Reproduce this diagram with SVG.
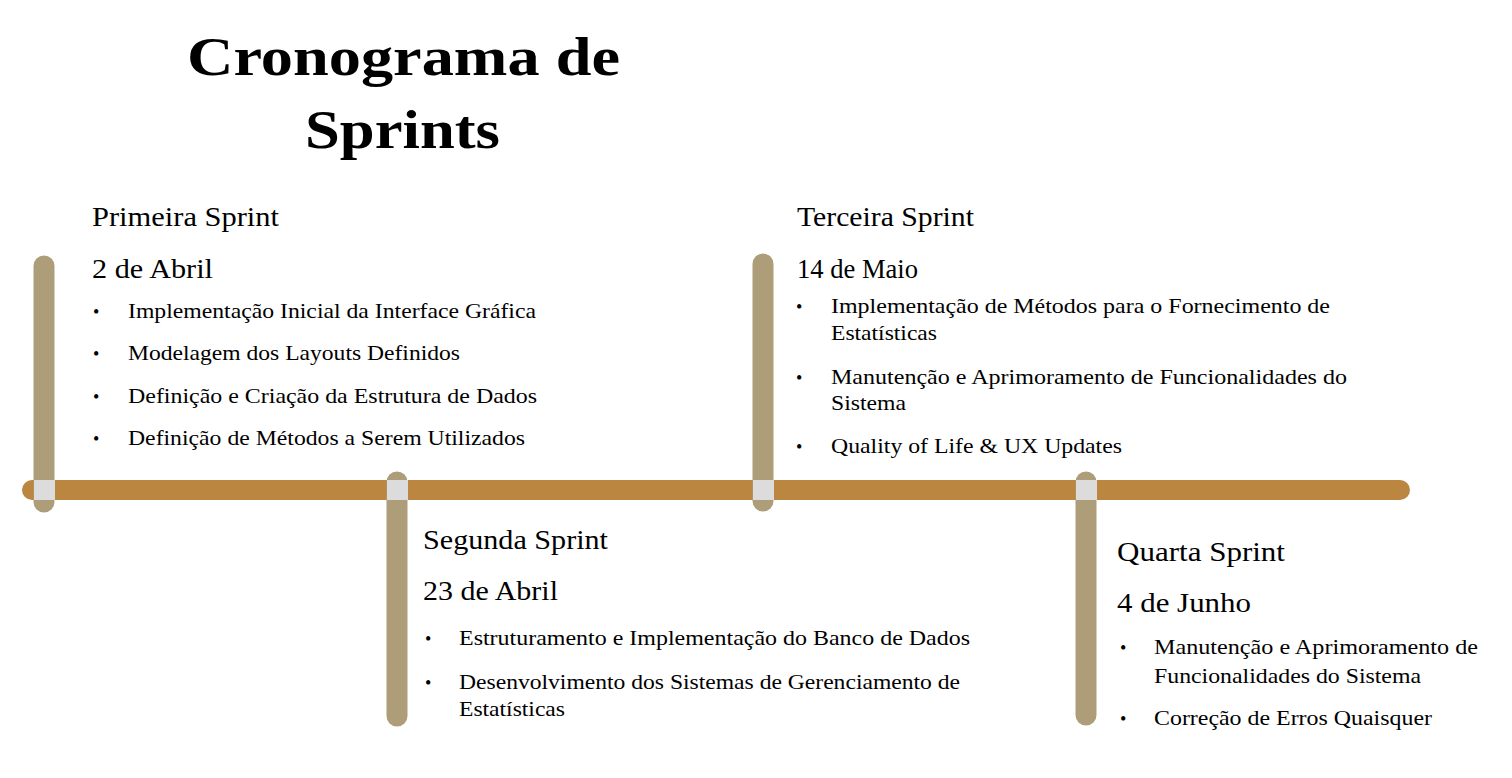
<svg xmlns="http://www.w3.org/2000/svg" width="1512" height="778" viewBox="0 0 1512 778">
<style>
text{font-family:"Liberation Serif","Times New Roman",serif;fill:#000}
.title{font-size:54px;font-weight:bold}
.head{font-size:28px}
.item{font-size:22px}
.dot{font-size:18px}
.hbar{stroke:#BA8640;stroke-width:20;stroke-linecap:round;fill:none}
.vbar{stroke:#AD9D79;stroke-width:21;stroke-linecap:round;fill:none}
.joint{fill:#DCDCDC}
</style>
<rect width="1512" height="778" fill="#fff"/>
<g id="title">
<text class="title" x="187" y="75" textLength="433" lengthAdjust="spacingAndGlyphs">Cronograma de</text>
<text class="title" x="305" y="148" textLength="195" lengthAdjust="spacingAndGlyphs">Sprints</text>
</g>
<g id="connectors">
<line class="hbar" x1="32" y1="490" x2="1400" y2="490"/>
<line class="vbar" x1="44" y1="266" x2="44" y2="502"/>
<line class="vbar" x1="397" y1="482" x2="397" y2="716"/>
<line class="vbar" x1="763" y1="264" x2="763" y2="501"/>
<line class="vbar" x1="1086" y1="482" x2="1086" y2="715"/>
<rect class="joint" x="34" y="480" width="21" height="20"/>
<rect class="joint" x="387" y="480" width="21" height="20"/>
<rect class="joint" x="753" y="480" width="21" height="20"/>
<rect class="joint" x="1076" y="480" width="21" height="20"/>
</g>
<g id="sprint1">
<text class="head" x="92" y="226" textLength="187" lengthAdjust="spacingAndGlyphs">Primeira Sprint</text>
<text class="head" x="92" y="278" textLength="121" lengthAdjust="spacingAndGlyphs">2 de Abril</text>
<text class="dot" x="93" y="318">•</text>
<text class="item" x="128" y="318" textLength="408" lengthAdjust="spacingAndGlyphs">Implementação Inicial da Interface Gráfica</text>
<text class="dot" x="93" y="360">•</text>
<text class="item" x="128" y="360" textLength="332" lengthAdjust="spacingAndGlyphs">Modelagem dos Layouts Definidos</text>
<text class="dot" x="93" y="403">•</text>
<text class="item" x="128" y="403" textLength="409" lengthAdjust="spacingAndGlyphs">Definição e Criação da Estrutura de Dados</text>
<text class="dot" x="93" y="445">•</text>
<text class="item" x="128" y="445" textLength="397" lengthAdjust="spacingAndGlyphs">Definição de Métodos a Serem Utilizados</text>
</g>
<g id="sprint2">
<text class="head" x="423" y="549" textLength="185" lengthAdjust="spacingAndGlyphs">Segunda Sprint</text>
<text class="head" x="423" y="600" textLength="135" lengthAdjust="spacingAndGlyphs">23 de Abril</text>
<text class="dot" x="425" y="645">•</text>
<text class="item" x="459" y="645" textLength="511" lengthAdjust="spacingAndGlyphs">Estruturamento e Implementação do Banco de Dados</text>
<text class="dot" x="425" y="689">•</text>
<text class="item" x="459" y="689" textLength="501" lengthAdjust="spacingAndGlyphs">Desenvolvimento dos Sistemas de Gerenciamento de</text>
<text class="item" x="459" y="716" textLength="106" lengthAdjust="spacingAndGlyphs">Estatísticas</text>
</g>
<g id="sprint3">
<text class="head" x="797" y="226" textLength="177" lengthAdjust="spacingAndGlyphs">Terceira Sprint</text>
<text class="head" x="797" y="278" textLength="121" lengthAdjust="spacingAndGlyphs">14 de Maio</text>
<text class="dot" x="796" y="313">•</text>
<text class="item" x="831" y="313" textLength="499" lengthAdjust="spacingAndGlyphs">Implementação de Métodos para o Fornecimento de</text>
<text class="item" x="831" y="340" textLength="106" lengthAdjust="spacingAndGlyphs">Estatísticas</text>
<text class="dot" x="796" y="384">•</text>
<text class="item" x="831" y="384" textLength="516" lengthAdjust="spacingAndGlyphs">Manutenção e Aprimoramento de Funcionalidades do</text>
<text class="item" x="831" y="410" textLength="75" lengthAdjust="spacingAndGlyphs">Sistema</text>
<text class="dot" x="796" y="453">•</text>
<text class="item" x="831" y="453" textLength="291" lengthAdjust="spacingAndGlyphs">Quality of Life &amp; UX Updates</text>
</g>
<g id="sprint4">
<text class="head" x="1117" y="561" textLength="168" lengthAdjust="spacingAndGlyphs">Quarta Sprint</text>
<text class="head" x="1117" y="612" textLength="134" lengthAdjust="spacingAndGlyphs">4 de Junho</text>
<text class="dot" x="1120" y="654">•</text>
<text class="item" x="1154" y="654" textLength="324" lengthAdjust="spacingAndGlyphs">Manutenção e Aprimoramento de</text>
<text class="item" x="1154" y="683" textLength="267" lengthAdjust="spacingAndGlyphs">Funcionalidades do Sistema</text>
<text class="dot" x="1120" y="725">•</text>
<text class="item" x="1154" y="725" textLength="278" lengthAdjust="spacingAndGlyphs">Correção de Erros Quaisquer</text>
</g>
</svg>
